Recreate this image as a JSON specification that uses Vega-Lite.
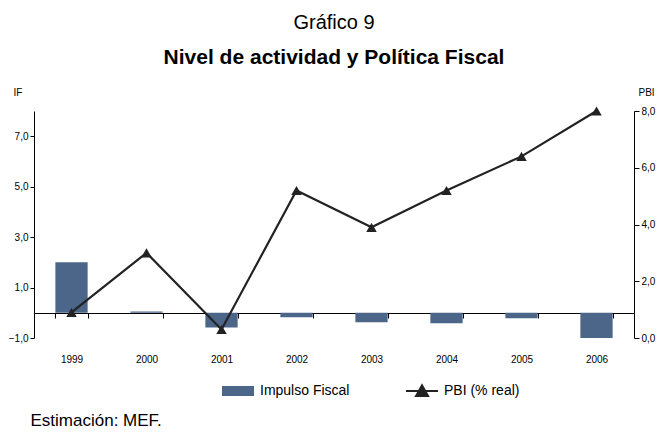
{
  "$schema": "https://vega.github.io/schema/vega-lite/v6.json",
  "width": 600,
  "height": 227,
  "autosize": "none",
  "padding": {"left": 34, "top": 111, "right": 30, "bottom": 97},
  "background": "white",
  "config": {
    "font": "Liberation Sans",
    "view": {"stroke": null},
    "axis": {
      "labelFont": "Liberation Sans",
      "titleFont": "Liberation Sans",
      "labelFontSize": 10,
      "labelColor": "#000",
      "titleColor": "#000",
      "titleFontWeight": "normal",
      "titleFontSize": 10,
      "domainColor": "#000",
      "tickColor": "#000",
      "grid": false
    },
    "legend": {
      "labelFont": "Liberation Sans",
      "labelFontSize": 14,
      "labelColor": "#000",
      "padding": 0
    }
  },
  "title": {
    "text": "Gráfico 9",
    "subtitle": "Nivel de actividad y Política Fiscal",
    "font": "Liberation Sans",
    "subtitleFont": "Liberation Sans",
    "fontSize": 20,
    "fontWeight": "normal",
    "subtitleFontSize": 21,
    "subtitleFontWeight": "bold",
    "subtitleColor": "#000",
    "subtitlePadding": 14,
    "color": "#000",
    "anchor": "middle",
    "frame": "group",
    "offset": 19
  },
  "data": {
    "values": [
      {"year": "1999", "IF": 2.0, "PBI": 0.9},
      {"year": "2000", "IF": 0.05, "PBI": 3.0},
      {"year": "2001", "IF": -0.58, "PBI": 0.3},
      {"year": "2002", "IF": -0.18, "PBI": 5.2},
      {"year": "2003", "IF": -0.38, "PBI": 3.9},
      {"year": "2004", "IF": -0.42, "PBI": 5.2},
      {"year": "2005", "IF": -0.22, "PBI": 6.4},
      {"year": "2006", "IF": -1.0, "PBI": 8.0}
    ]
  },
  "encoding": {
    "x": {
      "field": "year",
      "type": "ordinal",
      "scale": {"paddingInner": 0.57, "paddingOuter": 0.285},
      "axis": {
        "orient": "bottom",
        "offset": -25,
        "labelAngle": 0,
        "tickBand": "extent",
        "tickSize": 5,
        "labelPadding": 36,
        "domainColor": "#000",
        "title": "Estimación: MEF.",
        "titleFontSize": 17,
        "titleAnchor": "start",
        "titleAlign": "left",
        "titleBaseline": "alphabetic",
        "titleX": -4,
        "titleY": 112
      }
    }
  },
  "layer": [
    {
      "mark": {"type": "bar", "stroke": null},
      "encoding": {
        "y": {
          "field": "IF",
          "type": "quantitative",
          "scale": {"domain": [-1, 8], "nice": false, "zero": false},
          "axis": {
            "orient": "left",
            "values": [-1, 1, 3, 5, 7],
            "labelExpr": "replace(format(datum.value, '.1f'), '.', ',')",
            "tickSize": 4,
            "title": "IF",
            "titleAngle": 0,
            "titleAlign": "left",
            "titleBaseline": "alphabetic",
            "titleX": -21,
            "titleY": -16
          }
        },
        "fill": {
          "datum": "Impulso Fiscal",
          "scale": {"range": ["#4b6689"]},
          "legend": {
            "orient": "none",
            "legendX": 187,
            "legendY": 263,
            "title": null,
            "symbolType": "M-1,-0.3125H1V0.3125H-1Z",
            "symbolSize": 1024,
            "labelOffset": 5
          }
        }
      }
    },
    {
      "encoding": {
        "y": {
          "field": "PBI",
          "type": "quantitative",
          "scale": {"domain": [0, 8], "nice": false},
          "axis": {
            "orient": "right",
            "values": [0, 2, 4, 6, 8],
            "labelExpr": "replace(format(datum.value, '.1f'), '.', ',')",
            "tickSize": 5,
            "title": "PBI",
            "titleAngle": 0,
            "titleAlign": "left",
            "titleBaseline": "alphabetic",
            "titleX": 4,
            "titleY": -16
          }
        }
      },
      "layer": [
        {
          "mark": {"type": "line", "color": "#333333", "strokeWidth": 2.2},
          "encoding": {
            "stroke": {
              "datum": "PBI (% real)",
              "scale": {"range": ["#222222"]},
              "legend": {
                "orient": "none",
                "legendX": 371,
                "legendY": 263,
                "title": null,
                "symbolType": "M-1,0H1M-0.38,0.32L0,-0.36L0.38,0.32Z",
                "symbolSize": 1024,
                "symbolStrokeWidth": 2,
                "labelOffset": 5,
                "encode": {"symbols": {"update": {"fill": {"value": "#222222"}}}}
              }
            }
          }
        },
        {
          "mark": {"type": "point", "shape": "triangle-up", "filled": true, "size": 110, "color": "#222222", "opacity": 1}
        }
      ]
    }
  ],
  "resolve": {"scale": {"y": "independent", "fill": "independent", "stroke": "independent"}}
}
